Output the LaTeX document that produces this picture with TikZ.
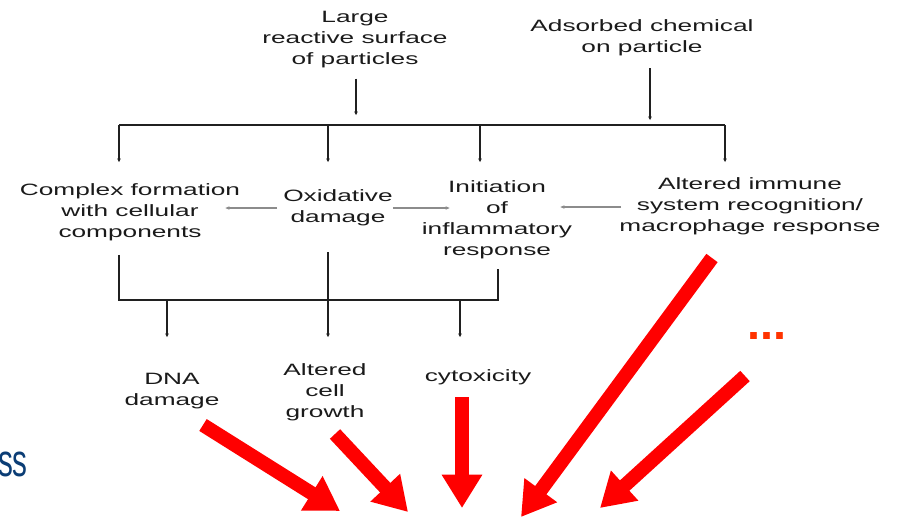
\documentclass[tikz,border=0pt]{standalone}
\usepackage{fontspec}
\setmainfont{Liberation Sans}[FakeStretch=1.6]
\newfontfamily\slidefont{Liberation Sans}[FakeStretch=0.65]
\newfontfamily\dotsfont{Liberation Sans}
\usetikzlibrary{arrows.meta,calc,positioning}

\begin{document}
\begin{tikzpicture}[x=0.03cm, y=-0.03cm,
    stage/.style={align=center, inner sep=0pt, text=textColor, font=\fontsize{14pt}{17.9pt}\selectfont},
    tree/.style={line width=0.9pt, draw=lineColor},
    treearrow/.style={tree, -{Stealth[length=3pt,width=3pt]}},
    sidearrow/.style={line width=1.2pt, draw=sideColor, -{Stealth[length=3.5pt,width=3pt]}},
    bigarrow/.style={line width=0.42cm, draw=arrowRed, -{Triangle[length=1.0cm,width=1.15cm]}}]
    % Color Palette
    \definecolor{textColor}{HTML}{1A1A1A}
    \definecolor{lineColor}{HTML}{202020}
    \definecolor{sideColor}{HTML}{8C8C8C}
    \definecolor{arrowRed}{HTML}{FF0000}
    \definecolor{dotColor}{HTML}{FF3300}
    \definecolor{slideBlue}{HTML}{0B3D75}

    \useasboundingbox (0,0) rectangle (897,518);

    % --- Sources (Top) ---
    \node[stage] (large) at (355,40) {Large\\reactive surface\\of particles};
    \node[stage] (adsorbed) at (642,38) {Adsorbed chemical\\on particle};

    % --- Mechanisms (Middle) ---
    \node[stage] (complex) at (130,212) {Complex formation\\with cellular\\components};
    \node[stage] (oxid) at (338,208) {Oxidative\\damage};
    \node[stage] (init) at (497,220) {Initiation\\of\\inflammatory\\response};
    \node[stage] (immune) at (750,206) {Altered immune\\system recognition/\\macrophage response};

    % --- Effects (Bottom) ---
    \node[stage] (dna) at (172,391) {DNA\\damage};
    \node[stage] (growth) at (325,392) {Altered\\cell\\growth};
    \node[stage] (cyto) at (478,377) {cytoxicity};

    % Upper tree
    \coordinate (trunkL) at (119,125);
    \coordinate (trunkR) at (725,125);
    \draw[tree] (trunkL) -- (trunkR);
    \draw[treearrow] ($(large.south)+(1,10)$) -- ($(large.south |- trunkL)+(1,-10)$);
    \draw[treearrow] ($(adsorbed.south)+(8,12)$) -- ($(adsorbed.south |- trunkL)+(8,-5)$);
    \foreach \x in {119,328,480,725}
        \draw[treearrow] (trunkL) ++(\x-119,0) -- ++(0,37);

    % Side arrows
    \draw[sidearrow] ($(oxid.west)+(-6,0)$) -- ($(complex.east |- oxid.west)+(-15,0)$);
    \draw[sidearrow] ($(oxid.east)+(0,0)$) -- ($(init.west |- oxid.east)+(28,0)$);
    \draw[sidearrow] ($(immune.west)+(2,1)$) -- ($(init.east |- immune.west)+(-12,1)$);

    % Lower tree
    \coordinate (baseL) at (119,300);
    \coordinate (baseR) at (498,300);
    \draw[tree] ($(baseL |- complex.south)+(0,14)$) -- (baseL) -- (baseR) -- ($(baseR |- init.south)+(0,10)$);
    \draw[treearrow] ($(oxid.south)+(-10,26)$) -- ($(oxid.south |- baseL)+(-10,37)$);
    \foreach \x in {167,460}
        \draw[treearrow] (baseL) ++(\x-119,0) -- ++(0,37);

    % Big red arrows
    \coordinate (dnaFrom) at (203,425);   \coordinate (dnaTo) at (340,511);
    \coordinate (growthFrom) at (335,434); \coordinate (growthTo) at (408,512);
    \coordinate (cytoFrom) at (462,397);  \coordinate (cytoTo) at (462,508);
    \coordinate (immuneFrom) at (712,258); \coordinate (immuneTo) at (521,517);
    \coordinate (moreFrom) at (745,376);  \coordinate (moreTo) at (600,508);
    \draw[bigarrow] (dnaFrom) -- (dnaTo);
    \draw[bigarrow] (growthFrom) -- (growthTo);
    \draw[bigarrow] (cytoFrom) -- (cytoTo);
    \draw[bigarrow] (immuneFrom) -- (immuneTo);
    \draw[bigarrow] (moreFrom) -- (moreTo);

    % Slide leftovers
    \node[anchor=base west, inner sep=0pt, text=dotColor, font=\dotsfont\bfseries\fontsize{40pt}{40pt}\selectfont] (more) at (747,339) {...};
    \node[anchor=base east, inner sep=0pt, text=slideBlue, font=\slidefont\fontsize{39pt}{40pt}\selectfont] (slide) at (28,476) {ss};

\end{tikzpicture}
\end{document}
